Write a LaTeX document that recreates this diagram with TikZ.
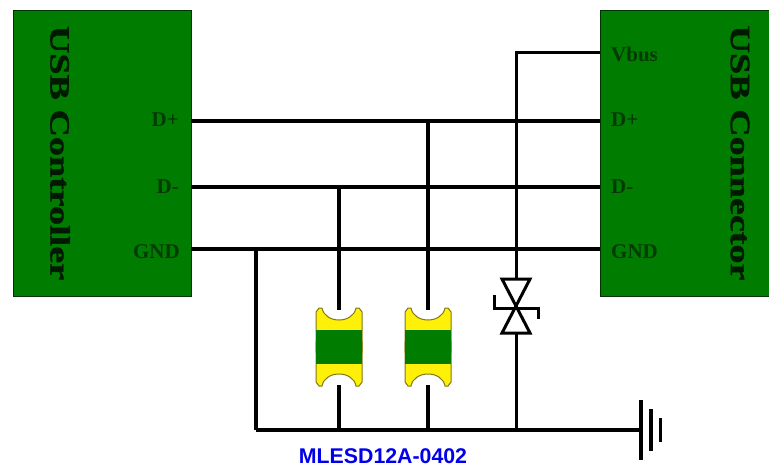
\documentclass[tikz,border=0pt]{standalone}
\usepackage{fontspec}
\usepackage{graphicx}
\setmainfont{Liberation Serif}
\newfontfamily\capfont{Liberation Sans}
\newfontfamily\titlefont[FakeBold=1.2]{Liberation Serif Bold}
\definecolor{boardgreen}{RGB}{0,125,0}
\definecolor{labelgreen}{RGB}{4,58,4}
\definecolor{padyellow}{RGB}{255,240,10}
\definecolor{padedge}{RGB}{130,120,20}
\definecolor{capblue}{RGB}{0,0,235}
\tikzset{
  px/.style={x=1pt,y=-1pt},
  board/.style={draw=black!80!green,line width=1.4pt,fill=boardgreen,anchor=north west,inner sep=0pt},
  boardtitle/.style={font=\titlefont\fontsize{28}{30}\selectfont,text=black!90!green,rotate=-90,inner sep=0pt},
  pinlabel/.style={font=\fontsize{21}{23}\selectfont\bfseries,text=labelgreen,inner sep=0pt},
  wire/.style={line width=3.6pt,black},
  thin wire/.style={line width=3pt,black},
  pad/.style={draw=padedge,line width=1pt,fill=padyellow},
  body/.style={fill=boardgreen,minimum width=46pt,minimum height=34pt,inner sep=0pt},
  tvs/.style={draw=black,line width=3pt,line join=miter},
  padtop/.pic={
    \path[pad] (-23,22) -- (-23,-18) -- (-20,-22) -- (-17,-22)
      .. controls (-14,-6) and (14,-6) .. (17,-22) -- (20,-22) -- (23,-18) -- (23,22) -- cycle;
  },
  padbot/.pic={
    \path[pad] (-23,-22) -- (-23,18) -- (-20,22) -- (-17,22)
      .. controls (-14,6) and (14,6) .. (17,22) -- (20,22) -- (23,18) -- (23,-22) -- cycle;
  }
}
\begin{document}
\begin{tikzpicture}[px]
\useasboundingbox (0,0) rectangle (769,468);
\fill[white] (0,0) rectangle (769,468);
% boards
\node[board,minimum width=178pt,minimum height=286pt] (ctrl) at (13,10) {};
\node[board,minimum width=172pt,minimum height=286pt] (conn) at (600,10) {};
\node[boardtitle] (ctrltitle) at (60,153) {\scalebox{1.36}[1]{USB Controller}};
\node[boardtitle] (conntitle) at (740,153) {\scalebox{1.36}[1]{USB Connector}};
% coordinates
\coordinate (cp) at (191,121);
\coordinate (cm) at (191,187);
\coordinate (cg) at (191,249);
\coordinate (rv) at (600,53);
\coordinate (rp) at (600,121);
\coordinate (rm) at (600,187);
\coordinate (rg) at (600,249);
\coordinate (jm) at (339,187);
\coordinate (jp) at (428,121);
\coordinate (jg) at (256,249);
\coordinate (tv) at (516,53);
\coordinate (bl) at (256,430);
\coordinate (b1) at (339,430);
\coordinate (b2) at (428,430);
\coordinate (b3) at (516,430);
\coordinate (gnd) at (641,430);
% protection parts
\pic at (339,330) {padtop};
\pic at (339,364) {padbot};
\pic at (428,330) {padtop};
\pic at (428,364) {padbot};
\node[body] (d1) at (339,347) {};
\node[body] (d2) at (428,347) {};
\coordinate (d1t) at (339,310);
\coordinate (d1b) at (339,385);
\coordinate (d2t) at (428,310);
\coordinate (d2b) at (428,385);
% wires
\draw[wire] (cp) -- (rp);
\draw[wire] (cm) -- (rm);
\draw[wire] (cg) -- (rg);
\draw[thin wire] (rv) -- (tv) -- (b3);
\draw[wire] (jm) -- (d1t);
\draw[wire] (jp) -- (d2t);
\draw[wire] (d1b) -- (b1);
\draw[wire] (d2b) -- (b2);
\draw[wire] (jg) -- (bl);
\draw[wire] (bl) -- (gnd);
% TVS diode
\fill[white] (502,279) -- (530,279) -- (516,308) -- cycle;
\fill[white] (502,333) -- (530,333) -- (516,308) -- cycle;
\draw[tvs] (502,279) -- (530,279) -- (502,333) -- (530,333) -- cycle;
\draw[tvs] (494.5,295) -- (494.5,308) -- (538,308) -- (538,319);
% ground
\draw[line width=3.3pt] (641,400) -- (641,460);
\draw[line width=3.3pt] (651,409) -- (651,451);
\draw[line width=3.3pt] (660.5,418) -- (660.5,442);
% labels
\node[pinlabel,anchor=east] (lp) at (179,120) {D+};
\node[pinlabel,anchor=east] (lm) at (179,187) {D-};
\node[pinlabel,anchor=east] (lg) at (180,252) {GND};
\node[pinlabel,anchor=west] (rlv) at (611,54) {Vbus};
\node[pinlabel,anchor=west] (rlp) at (611,120) {D+};
\node[pinlabel,anchor=west] (rlm) at (611,187) {D-};
\node[pinlabel,anchor=west] (rlg) at (611,252) {GND};
\node[font=\capfont\fontsize{21.3}{23}\selectfont\bfseries,text=capblue,inner sep=0pt] (cap) at (383,456) {MLESD12A-0402};
\end{tikzpicture}
\end{document}
